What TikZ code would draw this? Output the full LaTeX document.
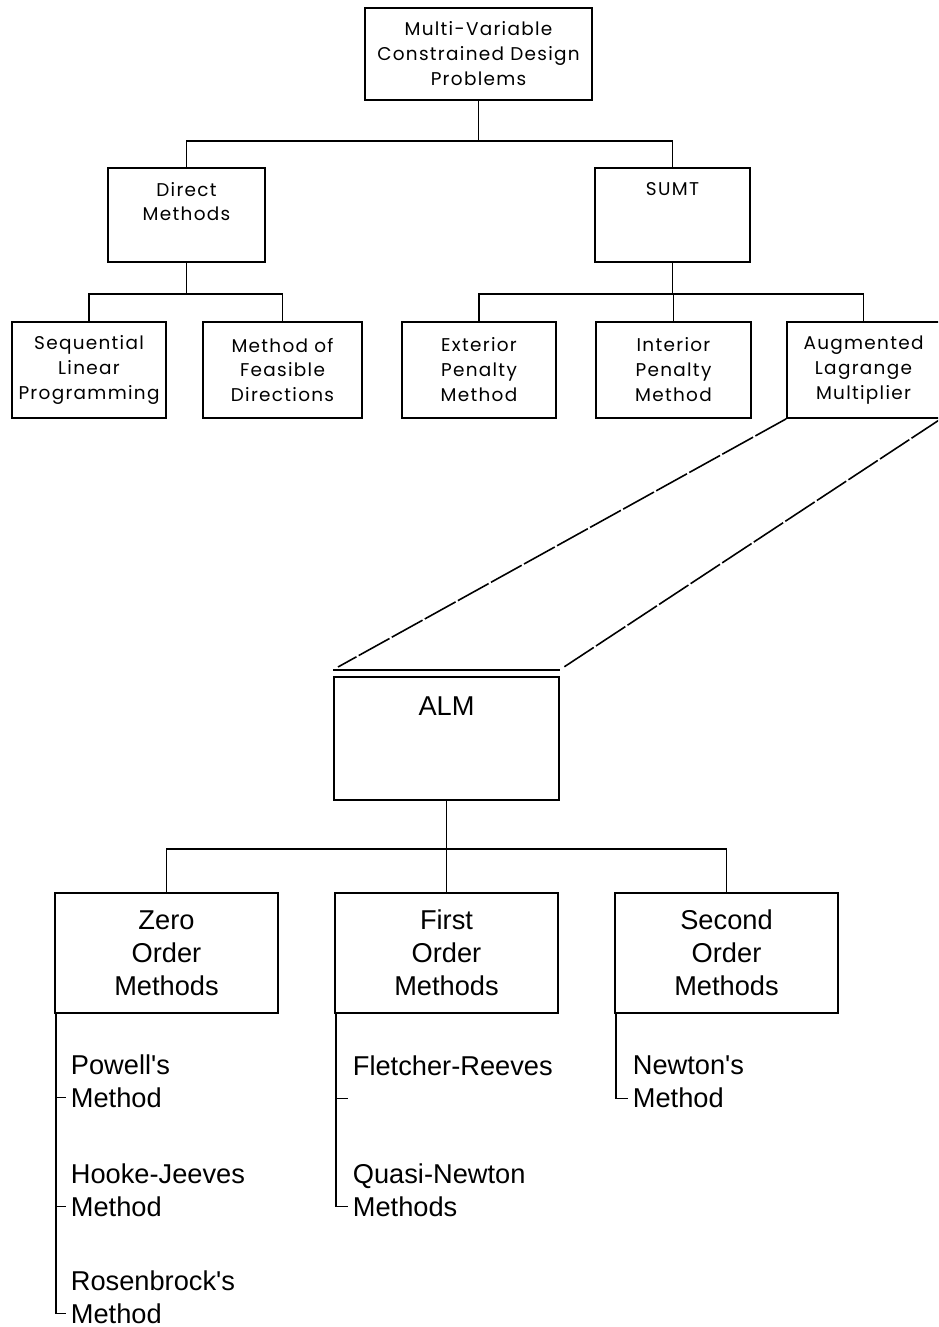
\documentclass[tikz,border=0pt]{standalone}
\usepackage{fontspec}
\setmainfont{Liberation Sans}
\newfontfamily\gothfont[LetterSpace=7]{Poppins}
\usetikzlibrary{positioning}

\tikzset{
	box/.style={draw, line width=1pt, inner sep=0pt, align=center},
	upbox/.style={box, font=\gothfont\fontsize{10.5}{14.2}\selectfont},
	lowbox/.style={box, font=\fontsize{15.5}{18.8}\selectfont},
	uptext/.style={inner sep=0pt, align=center, font=\gothfont\fontsize{10.5}{14.2}\selectfont},
	lowtext/.style={inner sep=0pt, align=center, font=\fontsize{15.5}{18.8}\selectfont},
	leaf/.style={inner sep=0pt, anchor=west, align=left, font=\fontsize{15.5}{18.8}\selectfont},
	zoomline/.style={line width=0.9pt, dash pattern=on 20pt off 1.5pt}
}

\begin{document}
\begin{tikzpicture}[x=0.2mm, y=-0.2mm, line width=1pt]
			\useasboundingbox (0,0) rectangle (938,1327);
			\clip (0,0) rectangle (938,1327);

			% Top of the tree
			\node[upbox, minimum width=45.4mm, minimum height=18.4mm] (top) at (478.5,54) {Multi-Variable\\Constrained Design\\Problems};

			\node[upbox, minimum width=31.4mm, minimum height=18.8mm] (drct) at (186.5,215) {};
			\node[upbox, minimum width=31mm, minimum height=18.8mm] (sumt) at (672.5,215) {};
			\node[uptext, below=2.8mm of drct.north] (drcttxt) {Direct\\Methods};
			\node[uptext, below=2.8mm of sumt.north] (sumttxt) {SUMT};

			% Third row
			\node[upbox, minimum width=30.8mm, minimum height=19.2mm] (slp) at (89,370) {Sequential\\Linear\\Programming};
			\node[upbox, minimum width=31.8mm, minimum height=19.2mm] (mfd) at (282.5,370) {Method of\\Feasible\\Directions};
			\node[upbox, minimum width=30.8mm, minimum height=19.2mm] (ext) at (479,370) {Exterior\\Penalty\\Method};
			\node[upbox, minimum width=31mm, minimum height=19.2mm] (int) at (673.5,370) {Interior\\Penalty\\Method};
			\node[upbox, minimum width=30.6mm, minimum height=19.2mm] (aug) at (863.5,370) {Augmented\\Lagrange\\Multiplier};

			% Blown up ALM box
			\node[lowbox, minimum width=45mm, minimum height=24.6mm] (alm) at (446.5,738.5) {};
			\node[lowtext, below=4mm of alm.north] (almtxt) {ALM};

			\node[lowbox, minimum width=44.6mm, minimum height=24mm] (zero) at (166.5,953) {Zero\\Order\\Methods};
			\node[lowbox, minimum width=44.6mm, minimum height=24mm] (first) at (446.5,953) {First\\Order\\Methods};
			\node[lowbox, minimum width=44.6mm, minimum height=24mm] (second) at (726.5,953) {Second\\Order\\Methods};

			% Tree lines
			\draw (top.south) -- ++(0,40) coordinate (b1);
			\draw (drct.north) |- (b1) -| (sumt.north);
			\draw (drct.south) -- ++(0,31) coordinate (b2);
			\draw (slp.north) |- (b2) -| (mfd.north);
			\draw (sumt.south) -- ++(0,31) coordinate (b3);
			\draw (ext.north) |- (b3) -| (aug.north);
			\draw (int.north) -- (int.north |- b3);
			\draw (alm.south) -- ++(0,48) coordinate (b4);
			\draw (zero.north) |- (b4) -| (second.north);
			\draw (first.north) -- (first.north |- b4);

			% Zoom lines
			\coordinate (tipL) at (338,667);
			\coordinate (tipR) at (564,667);
			\draw ([yshift=1.2mm]alm.north west) -- ([yshift=1.2mm]alm.north east);
			\draw[zoomline] (aug.south west) -- (tipL);
			\draw[zoomline] (aug.south east) -- (tipR);

			% Leaves
			\node[leaf] (pow) at (70,1081) {Powell\textquotesingle s\\Method};
			\node[leaf] (hj) at (70,1190) {Hooke-Jeeves\\Method};
			\node[leaf] (ros) at (70,1297) {Rosenbrock\textquotesingle s\\Method};
			\node[leaf] (fr) at (352,1082) {Fletcher-Reeves\\\mbox{}};
			\node[leaf] (qn) at (352,1190) {Quasi-Newton\\Methods};
			\node[leaf] (nwt) at (632,1082) {Newton\textquotesingle s\\Method};

			\coordinate (zt) at ([xshift=0.4mm]zero.south west);
			\coordinate (ft) at ([xshift=0.4mm]first.south west);
			\coordinate (st) at ([xshift=0.4mm]second.south west);
			\foreach \n in {pow,hj,ros,fr,qn,nwt}
				\coordinate (\n t) at ([xshift=-0.8mm, yshift=-3.3mm]\n.west);

			\draw (zt) |- (rost);
			\draw (powt -| zt) -- (powt);
			\draw (hjt -| zt) -- (hjt);
			\draw (ft) |- (qnt);
			\draw (frt -| ft) -- (frt);
			\draw (st) |- (nwtt);

		\end{tikzpicture}
\end{document}
